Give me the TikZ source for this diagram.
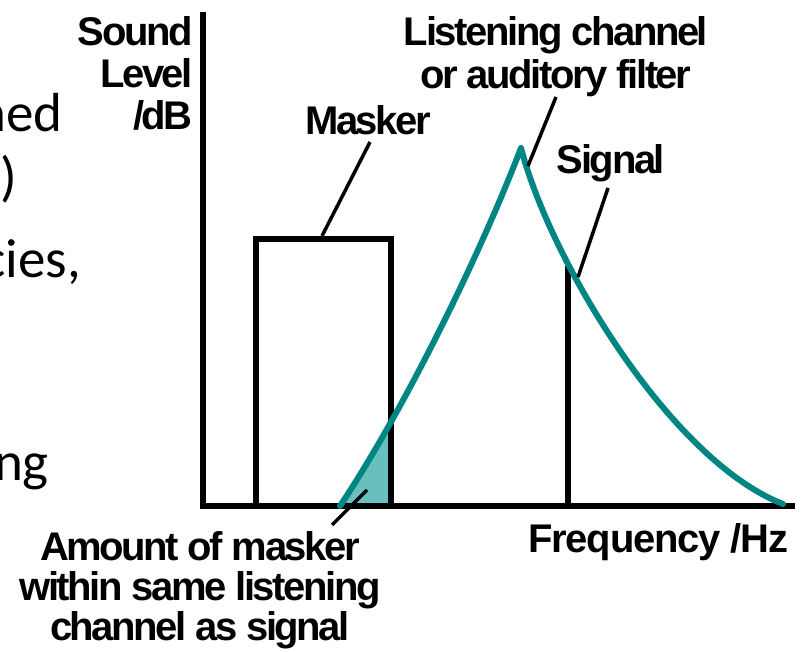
\documentclass[tikz,border=0pt]{standalone}
\usepackage{fontspec}
\setmainfont{Liberation Sans}
\newfontfamily\lblfont[LetterSpace=-6]{Liberation Sans}
\newfontfamily\freqfont[LetterSpace=-3]{Liberation Sans}
\newfontfamily\slidefont{Carlito}
\definecolor{filtcol}{RGB}{0,133,133}
\definecolor{shadecol}{RGB}{105,190,190}
\tikzset{
  lbl/.style={font=\lblfont\bfseries\fontsize{40}{42}\selectfont, inner sep=0pt, text=black},
  slide/.style={font=\slidefont\fontsize{55}{66}\selectfont, inner sep=0pt, text=black},
  axisline/.style={line width=5.5pt, black, line join=miter},
  leader/.style={line width=3.5pt, black},
  filt/.style={line width=6pt, filtcol, line cap=round, line join=round},
}
\begin{document}
\begin{tikzpicture}[x=1pt,y=-1pt]
\useasboundingbox (0,0) rectangle (810,652);

% key points
\coordinate (ytop) at (203,12);
\coordinate (xend) at (795,506);
\coordinate (fstart) at (340,506);
\coordinate (peak) at (521,148);
\coordinate (fend) at (783,504);
\coordinate (sigtop) at (568,266);
\coordinate (sigbot) at (568,506);

% shaded overlap of masker and filter
\begin{scope}
  \clip (330,506) rectangle (391,380);
  \fill[shadecol] (fstart) .. controls (400,416) and (476,265) .. (peak) -- (521,506) -- cycle;
\end{scope}

% masker box
\draw[axisline] (256,506) -- (256,239) -- (391,239) -- (391,506);

% signal line
\draw[line width=5.5pt] (sigbot) -- (sigtop);

% axes
\draw[axisline] (ytop) |- (xend);

% auditory filter
\draw[filt] (fstart) .. controls (400,416) and (476,265) .. (peak)
            .. controls (550,260) and (670,460) .. (fend);

% labels
\node[lbl, anchor=north east, align=right] (ylab) at (193,16) {Sound\\Level\\/dB};
\node[lbl, anchor=north, align=center, font=\lblfont\bfseries\fontsize{40}{43}\selectfont] (lchanlab) at (556,16) {Listening channel\\or auditory filter};
\node[lbl, anchor=base] (masklab) at (368,135) {Masker};
\node[lbl, anchor=base] (siglab) at (611,174) {Signal};
\node[lbl, anchor=base west, font=\freqfont\bfseries\fontsize{40}{42}\selectfont] (freqlab) at (528,552) {Frequency /Hz};
\node[lbl, anchor=north, align=center, font=\lblfont\bfseries\fontsize{40}{40}\selectfont] (amtlab) at (200,531) {Amount of masker\\within same listening\\channel as signal};

% leader lines
\coordinate (mkA) at (322,236); \coordinate (mkB) at (370,142);
\coordinate (lcA) at (528,166); \coordinate (lcB) at (556,97);
\coordinate (sgA) at (578,277); \coordinate (sgB) at (608,188);
\coordinate (amA) at (367,490); \coordinate (amB) at (332,525);
\draw[leader] (mkA) -- (mkB);
\draw[leader] (lcA) -- (lcB);
\draw[leader] (sgA) -- (sgB);
\draw[leader] (amA) -- (amB);

% cut-off slide text on the left
\node[slide, anchor=base east] (t1) at (63,132) {ned};
\node[slide, anchor=base east] (t2) at (17,196) {)};
\node[slide, anchor=base east] (t3) at (81,277) {cies,};
\node[slide, anchor=base east] (t4) at (49,480) {ng};
\end{tikzpicture}
\end{document}
